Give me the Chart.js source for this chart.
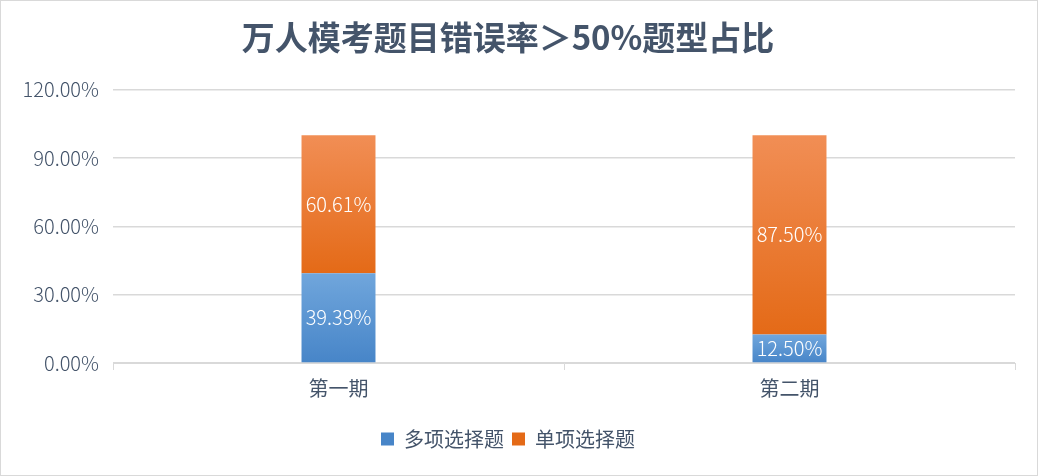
<!DOCTYPE html>
<html lang="zh">
<head>
  <meta charset="UTF-8" />
  <title>万人模考题目错误率</title>
  <script src="https://cdn.jsdelivr.net/npm/chart.js"></script>
  <style>
    html, body {
      margin: 0;
      padding: 0;
      background: #fff;
    }
    .chart-box {
      width: 1036px;
      height: 474px;
      border: 1px solid #d9d9d9;
      position: relative;
    }
  </style>
</head>
<body>
  <div class="chart-box">
    <canvas id="chart"></canvas>
  </div>

  <script>
    // data
    const categories = ['第一期', '第二期'];
    const seriesNames = ['多项选择题', '单项选择题'];
    const multiChoice = [39.39, 12.50];
    const singleChoice = [60.61, 87.50];
    const yTicks = [0, 30, 60, 90, 120];

    const textColor = '#44546A';
    const font = '"Noto Sans CJK SC", "Noto Sans", sans-serif';

    // top light -> bottom dark, per segment
    const palettes = [
      { top: '#70A6DC', bottom: '#4785C8', flat: '#5B9BD5' },
      { top: '#F18E55', bottom: '#E46A17', flat: '#ED7D31' }
    ];

    function segmentGradient(dsIndex) {
      return ctx => {
        const chart = ctx.chart;
        const pal = palettes[dsIndex];
        if (!chart.chartArea || ctx.type !== 'data') return pal.flat;
        const y = chart.scales.y;
        let start = 0;
        for (let i = 0; i < dsIndex; i++) start += chart.data.datasets[i].data[ctx.dataIndex];
        const val = chart.data.datasets[dsIndex].data[ctx.dataIndex];
        const top = y.getPixelForValue(start + val);
        const bottom = y.getPixelForValue(start);
        const g = chart.ctx.createLinearGradient(0, top, 0, bottom);
        g.addColorStop(0, pal.top);
        g.addColorStop(1, pal.bottom);
        return g;
      };
    }

    // white value labels in the middle of each segment
    const valueLabels = {
      id: 'valueLabels',
      afterDatasetsDraw(chart) {
        const c = chart.ctx;
        c.save();
        c.fillStyle = '#ffffff';
        c.font = '300 20px ' + font;
        c.textAlign = 'center';
        c.textBaseline = 'middle';
        chart.data.datasets.forEach((ds, di) => {
          chart.getDatasetMeta(di).data.forEach((bar, i) => {
            const mid = (bar.y + bar.base) / 2;
            c.fillText(ds.data[i].toFixed(2) + '%', bar.x, mid);
          });
        });
        c.restore();
      }
    };

    new Chart(document.getElementById('chart'), {
      type: 'bar',
      data: {
        labels: categories,
        datasets: [
          { label: seriesNames[0], data: multiChoice, backgroundColor: segmentGradient(0) },
          { label: seriesNames[1], data: singleChoice, backgroundColor: segmentGradient(1) }
        ]
      },
      options: {
        responsive: true,
        maintainAspectRatio: false,
        animation: false,
        layout: { padding: { left: 0, right: 22, top: 12, bottom: 16 } },
        datasets: {
          bar: { barPercentage: 0.164, categoryPercentage: 1 }
        },
        plugins: {
          title: {
            display: true,
            text: '万人模考题目错误率＞50%题型占比',
            color: textColor,
            font: { family: font, size: 33, weight: 'bold' },
            padding: { top: 5, bottom: 32 }
          },
          legend: {
            position: 'bottom',
            labels: {
              color: textColor,
              font: { family: font, size: 20 },
              boxWidth: 13,
              boxHeight: 13,
              padding: 8
            }
          },
          tooltip: { enabled: false }
        },
        scales: {
          x: {
            stacked: true,
            afterFit: s => { s.height += 15; },
            grid: {
              offset: true,
              drawOnChartArea: false,
              drawTicks: true,
              tickLength: 7,
              color: '#d9d9d9'
            },
            border: { color: '#d9d9d9' },
            ticks: {
              color: textColor,
              font: { family: font, size: 20 },
              padding: 6
            }
          },
          y: {
            stacked: true,
            min: 0,
            max: 120,
            afterFit: s => { s.width = 112; },
            afterBuildTicks: s => { s.ticks = yTicks.map(v => ({ value: v })); },
            grid: { color: '#d9d9d9', drawTicks: false, lineWidth: 1.5 },
            border: { display: false },
            ticks: {
              color: textColor,
              font: { family: font, size: 20, weight: 300 },
              padding: 14,
              callback: v => v.toFixed(2) + '%'
            }
          }
        }
      },
      plugins: [valueLabels]
    });
  </script>
</body>
</html>
